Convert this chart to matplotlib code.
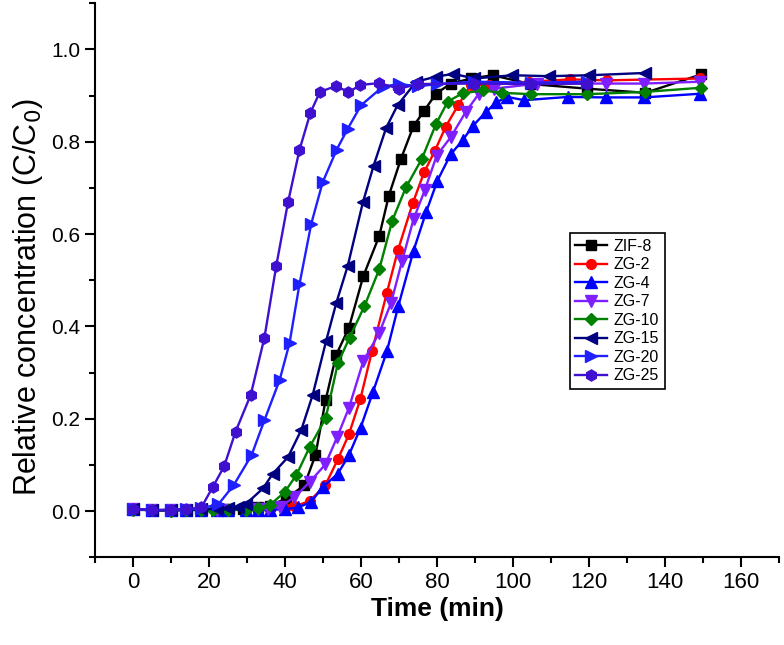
import matplotlib
matplotlib.use("Agg")
import matplotlib.pyplot as plt
from matplotlib.ticker import MultipleLocator

plt.rcParams['font.family'] = ['Liberation Sans', 'DejaVu Sans']

labels = ["ZIF-8", "ZG-2", "ZG-4", "ZG-7", "ZG-10", "ZG-15", "ZG-20", "ZG-25"]

t_zif8 = [0, 5, 10, 14, 18, 22, 25, 29, 33, 36, 40.3, 45.1, 48, 50.7, 53.5, 56.8, 60.6, 64.8, 67.3, 70.5,
          73.8, 76.6, 79.7, 83.6, 89, 94.6, 104.6, 119.4, 134.8, 149.5]
c_zif8 = [0.004, 0.002, 0.002, 0.003, 0.003, 0.004, 0.004, 0.005, 0.008, 0.012, 0.027, 0.056, 0.121, 0.241,
          0.339, 0.397, 0.509, 0.596, 0.683, 0.763, 0.834, 0.867, 0.904, 0.926, 0.937, 0.944, 0.925, 0.915,
          0.906, 0.946]

t_zg2 = [0, 5, 10, 14, 18, 22, 25, 29.8, 33, 36, 40, 42.5, 46.5, 50.6, 53.9, 56.8, 59.8, 62.9, 66.8, 69.7,
         73.6, 76.6, 79.4, 82.3, 85.6, 88.9, 93.7, 104.2, 115, 124.8, 149.2]
c_zg2 = [0.004, 0.002, 0.002, 0.003, 0.003, 0.003, 0.003, 0.003, 0.004, 0.005, 0.007, 0.010, 0.022, 0.056,
         0.112, 0.166, 0.242, 0.347, 0.473, 0.565, 0.667, 0.734, 0.780, 0.833, 0.880, 0.923, 0.923, 0.930,
         0.935, 0.933, 0.937]

t_zg4 = [0, 5, 10, 14, 18, 22, 25, 29.8, 33, 36, 40, 43.5, 46.9, 49.9, 53.9, 56.8, 59.9, 63.1, 66.8, 69.8,
         73.8, 77.1, 80.1, 83.6, 86.7, 89.5, 92.8, 95.5, 98.5, 102.9, 114.3, 124.3, 134.4, 149.2]
c_zg4 = [0.004, 0.002, 0.002, 0.003, 0.003, 0.003, 0.003, 0.003, 0.003, 0.003, 0.004, 0.008, 0.020, 0.052,
         0.081, 0.121, 0.181, 0.257, 0.346, 0.444, 0.564, 0.647, 0.716, 0.773, 0.803, 0.835, 0.864, 0.885,
         0.897, 0.890, 0.897, 0.896, 0.896, 0.904]

t_zg7 = [0, 5, 10, 14, 18, 22, 25, 29.8, 33, 35.5, 38.6, 42.5, 46.5, 50.6, 53.7, 56.8, 60.6, 64.8, 67.9, 70.8,
         73.8, 76.8, 79.9, 83.6, 87.5, 91, 95, 106.4, 124.3, 134.4, 149.2]
c_zg7 = [0.004, 0.002, 0.002, 0.003, 0.003, 0.003, 0.003, 0.003, 0.004, 0.005, 0.009, 0.030, 0.063, 0.101,
         0.160, 0.223, 0.325, 0.386, 0.451, 0.542, 0.632, 0.696, 0.770, 0.810, 0.864, 0.904, 0.915, 0.926,
         0.926, 0.926, 0.930]

t_zg10 = [0, 5, 10, 14, 18, 21, 25, 29.8, 33, 36, 39.9, 43, 46.5, 50.7, 53.9, 57, 60.9, 64.8, 68.2, 71.8,
          76, 79.7, 82.8, 86.7, 92, 97, 104.6, 119.5, 134.8, 149.5]
c_zg10 = [0.003, 0.002, 0.001, 0.002, 0.002, 0.002, 0.002, 0.003, 0.006, 0.013, 0.041, 0.078, 0.139, 0.201,
          0.320, 0.376, 0.444, 0.524, 0.629, 0.701, 0.763, 0.838, 0.887, 0.905, 0.911, 0.906, 0.903, 0.903,
          0.908, 0.917]

t_zg15 = [0, 5, 10, 14, 18, 22, 25, 27.6, 29.8, 34.2, 36.8, 40.8, 44.3, 47.3, 50.8, 53.5, 56.5, 60.5, 63.3,
          66.6, 69.6, 74.5, 79.7, 84.3, 89.8, 99.8, 109.4, 120, 134.8]
c_zg15 = [0.004, 0.002, 0.002, 0.003, 0.004, 0.005, 0.006, 0.008, 0.016, 0.049, 0.081, 0.117, 0.176, 0.252,
          0.368, 0.451, 0.531, 0.669, 0.748, 0.830, 0.879, 0.930, 0.941, 0.947, 0.937, 0.944, 0.942, 0.944,
          0.949]

t_zg20 = [0, 5, 10, 14, 18, 22.5, 26.5, 31.2, 34.6, 38.6, 41.2, 43.8, 46.9, 49.9, 53.6, 56.5, 60, 65.7, 70,
          75, 80, 89.8, 104.6, 119.4]
c_zg20 = [0.004, 0.002, 0.003, 0.004, 0.006, 0.015, 0.056, 0.121, 0.197, 0.284, 0.364, 0.491, 0.622, 0.712,
          0.783, 0.828, 0.879, 0.919, 0.925, 0.920, 0.925, 0.930, 0.928, 0.930]

t_zg25 = [0, 5, 10, 14, 18, 21, 24, 27, 31, 34.6, 37.7, 40.8, 43.8, 46.7, 49.2, 53.5, 56.7, 59.8, 64.8, 70,
          75, 89.8, 104.6, 119.4]
c_zg25 = [0.005, 0.002, 0.003, 0.004, 0.008, 0.052, 0.097, 0.172, 0.252, 0.376, 0.531, 0.669, 0.782, 0.863,
          0.908, 0.921, 0.907, 0.923, 0.927, 0.915, 0.925, 0.926, 0.925, 0.926]

times = [t_zif8, t_zg2, t_zg4, t_zg7, t_zg10, t_zg15, t_zg20, t_zg25]
concs = [c_zif8, c_zg2, c_zg4, c_zg7, c_zg10, c_zg15, c_zg20, c_zg25]
colors = ["#000000", "#ff0000", "#0000ff", "#7f1fff", "#008000", "#000080", "#1f1fff", "#4010d0"]
markers = ["s", "o", "^", "v", "D", "<", ">", "h"]
msizes = [7, 7, 9, 9, 6.5, 9, 9, 8]

fig = plt.figure(figsize=(7.84, 6.45), dpi=100)
ax = fig.add_axes([0.121, 0.136, 0.873, 0.859])

for t, c, col, m, ms, lab in zip(times, concs, colors, markers, msizes, labels):
    ax.plot(t, c, color=col, marker=m, markersize=ms, linewidth=1.7, label=lab,
            markeredgecolor=col, markerfacecolor=col)

ax.set_xlim(-10, 170)
ax.set_ylim(-0.1, 1.1)
ax.xaxis.set_major_locator(MultipleLocator(20))
ax.xaxis.set_minor_locator(MultipleLocator(10))
ax.yaxis.set_minor_locator(MultipleLocator(0.1))
ax.set_yticks([0.0, 0.2, 0.4, 0.6, 0.8, 1.0])
ax.set_yticklabels(["0.0", "0.2", "0.4", "0.6", "0.8", "1.0"])

ax.spines['top'].set_visible(False)
ax.spines['right'].set_visible(False)
for s in ['left', 'bottom']:
    ax.spines[s].set_linewidth(1.5)
ax.tick_params(axis='both', which='major', direction='out', length=7, width=1.5, labelsize=15)
ax.tick_params(axis='both', which='minor', direction='out', length=4, width=1.5)
for lbl in ax.get_xticklabels():
    lbl.set_fontsize(16)

ax.set_xlabel("Time (min)", fontsize=19, fontweight='bold', labelpad=3)
ax.set_ylabel("Relative concentration (C/C$_0$)", fontsize=22)
ax.yaxis.set_label_coords(-0.073, 0.47)

leg = ax.legend(loc='upper left', bbox_to_anchor=(0.694, 0.585), fontsize=11.5, frameon=True,
                fancybox=False, edgecolor='black', framealpha=1, handlelength=2.0,
                labelspacing=0.22, borderpad=0.35, handletextpad=0.4, borderaxespad=0)
leg.get_frame().set_linewidth(1.2)

fig.savefig("out.png", dpi=100)
